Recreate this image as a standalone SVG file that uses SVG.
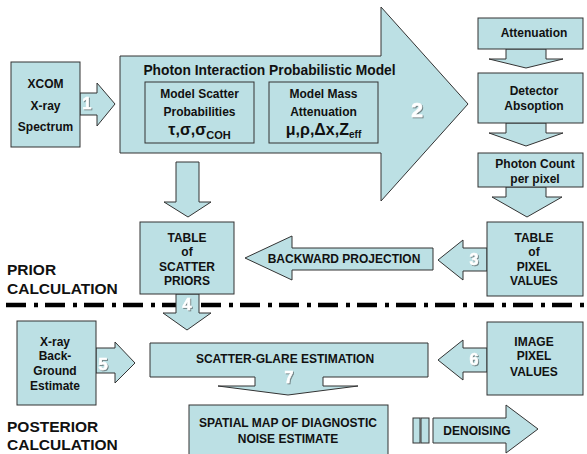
<svg xmlns="http://www.w3.org/2000/svg" width="587" height="454" viewBox="0 0 587 454">
<defs>
<style>
.s{fill:#bce0e4;stroke:#333;stroke-width:1;stroke-linejoin:miter}
.t{font-family:"Liberation Sans",Arial,sans-serif;font-weight:bold;font-size:12px;text-anchor:middle;fill:#111}
.h{font-family:"Liberation Sans",Arial,sans-serif;font-weight:bold;font-size:15.5px;fill:#111}
.n{font-family:"Liberation Sans",Arial,sans-serif;font-weight:bold;font-size:16px;text-anchor:middle;fill:#fff;stroke:#fff;stroke-width:0.6;filter:url(#sh)}
</style>
<filter id="sh" x="-30%" y="-30%" width="160%" height="160%">
<feDropShadow dx="1" dy="1" stdDeviation="0.4" flood-color="#6f8284"/>
</filter>
</defs>
<rect width="587" height="454" fill="#fff"/>

<g id="section-labels">
<text class="h" x="7" y="275">PRIOR</text>
<text class="h" x="7" y="294">CALCULATION</text>
<text class="h" x="7" y="432">POSTERIOR</text>
<text class="h" x="7" y="450">CALCULATION</text>
<line x1="6" y1="305" x2="584" y2="305" stroke="#000" stroke-width="4.5" stroke-dasharray="20 8 4 7"/>
</g>

<g id="connectors">
<path class="s" d="M80,93 H97 V83 L115,104 L97,126 V115 H80 Z"/>
<path class="s" d="M176,162 H199 V202 H211 L188,217 L164,202 H176 Z"/>
<path class="s" d="M506,49 H546 V59 H563 L526,68 L489,59 H506 Z"/>
<path class="s" d="M506,123 H546 V133 H563 L526,146 L489,133 H506 Z"/>
<path class="s" d="M506,187 H546 V197 H562 L527,217 L492,197 H506 Z"/>
<path class="s" d="M487,248 H463 V240 L438,260 L463,280 V271 H487 Z"/>
<path class="s" d="M176,294 H199 V313 H211 L187,330 L163,313 H176 Z"/>
<path class="s" d="M96,348 H115 V342 L135,363 L115,383 V373 H96 Z"/>
<path class="s" d="M487,348 H463 V340 L438,360 L463,380 V372 H487 Z"/>
<text class="n" x="87" y="109">1</text>
<text class="n" x="474" y="265">3</text>
<text class="n" x="187" y="310">4</text>
<text class="n" x="103" y="370" style="font-size:17px">5</text>
<text class="n" x="474" y="365">6</text>
</g>

<g id="xcom">
<rect class="s" x="11" y="62" width="69" height="85"/>
<text class="t" x="45.5" y="88">XCOM</text>
<text class="t" x="45.5" y="110">X-ray</text>
<text class="t" x="45.5" y="131">Spectrum</text>
</g>

<g id="photon-model">
<path class="s" d="M120,56 H381 V7 L468,104 L381,201 V153 H120 Z"/>
<text class="t" x="269.5" y="75" style="font-size:13.8px">Photon Interaction Probabilistic Model</text>
<text class="n" x="417" y="117" style="font-size:21px">2</text>
</g>

<g id="model-scatter">
<rect class="s" x="145" y="82" width="109" height="61"/>
<text class="t" x="199.5" y="98">Model Scatter</text>
<text class="t" x="199.5" y="116">Probabilities</text>
<text class="t" x="199.5" y="135" style="font-size:16px">τ,σ,σ<tspan style="font-size:11px" dy="4">COH</tspan></text>
</g>

<g id="model-mass">
<rect class="s" x="269" y="82" width="109" height="61"/>
<text class="t" x="323.5" y="98">Model Mass</text>
<text class="t" x="323.5" y="116">Attenuation</text>
<text class="t" x="323.5" y="135" style="font-size:16px">μ,ρ,Δx,Z<tspan style="font-size:10px" dy="3">eff</tspan></text>
</g>

<g id="attenuation">
<rect class="s" x="478" y="18" width="105" height="31"/>
<text class="t" x="534" y="37">Attenuation</text>
</g>

<g id="detector">
<rect class="s" x="478" y="73" width="105" height="50"/>
<text class="t" x="534" y="95">Detector</text>
<text class="t" x="534" y="110">Absoption</text>
</g>

<g id="photon-count">
<rect class="s" x="478" y="153" width="105" height="34"/>
<text class="t" x="535" y="168">Photon Count</text>
<text class="t" x="535" y="183">per pixel</text>
</g>

<g id="table-pixel">
<rect class="s" x="487" y="222" width="96" height="74"/>
<text class="t" x="534" y="242">TABLE</text>
<text class="t" x="534" y="256">of</text>
<text class="t" x="534" y="271">PIXEL</text>
<text class="t" x="534" y="285">VALUES</text>
</g>

<g id="backward-projection">
<path class="s" d="M433,248 H292 V236 L245,258 L292,280 V270 H433 Z"/>
<text class="t" x="344" y="263">BACKWARD PROJECTION</text>
</g>

<g id="table-scatter">
<rect class="s" x="140" y="222" width="94" height="72"/>
<text class="t" x="187" y="242">TABLE</text>
<text class="t" x="187" y="256">of</text>
<text class="t" x="187" y="271">SCATTER</text>
<text class="t" x="187" y="285">PRIORS</text>
</g>

<g id="xray-background">
<rect class="s" x="17" y="321" width="79" height="84"/>
<text class="t" x="55" y="346">X-ray</text>
<text class="t" x="55" y="360">Back-</text>
<text class="t" x="55" y="375">Ground</text>
<text class="t" x="55" y="390">Estimate</text>
</g>

<g id="image-pixel">
<rect class="s" x="487" y="322" width="96" height="73"/>
<text class="t" x="534" y="346">IMAGE</text>
<text class="t" x="534" y="360">PIXEL</text>
<text class="t" x="534" y="376">VALUES</text>
</g>

<g id="scatter-glare">
<path class="s" d="M150,343 H428 V377 H323 V386 H358 L288,395 L218,386 H255 V377 H150 Z"/>
<text class="t" x="285" y="363">SCATTER-GLARE ESTIMATION</text>
<text class="n" x="289" y="383">7</text>
</g>

<g id="spatial-map">
<rect class="s" x="189" y="405" width="199" height="56"/>
<text class="t" x="288" y="427">SPATIAL MAP OF DIAGNOSTIC</text>
<text class="t" x="288" y="443">NOISE ESTIMATE</text>
</g>

<g id="denoising">
<rect class="s" x="413" y="418" width="7" height="25"/>
<rect class="s" x="421" y="418" width="8" height="25"/>
<path class="s" d="M433,418 H506 V405 L538,429 L506,453 V443 H433 Z"/>
<text class="t" x="477" y="435">DENOISING</text>
</g>
</svg>
